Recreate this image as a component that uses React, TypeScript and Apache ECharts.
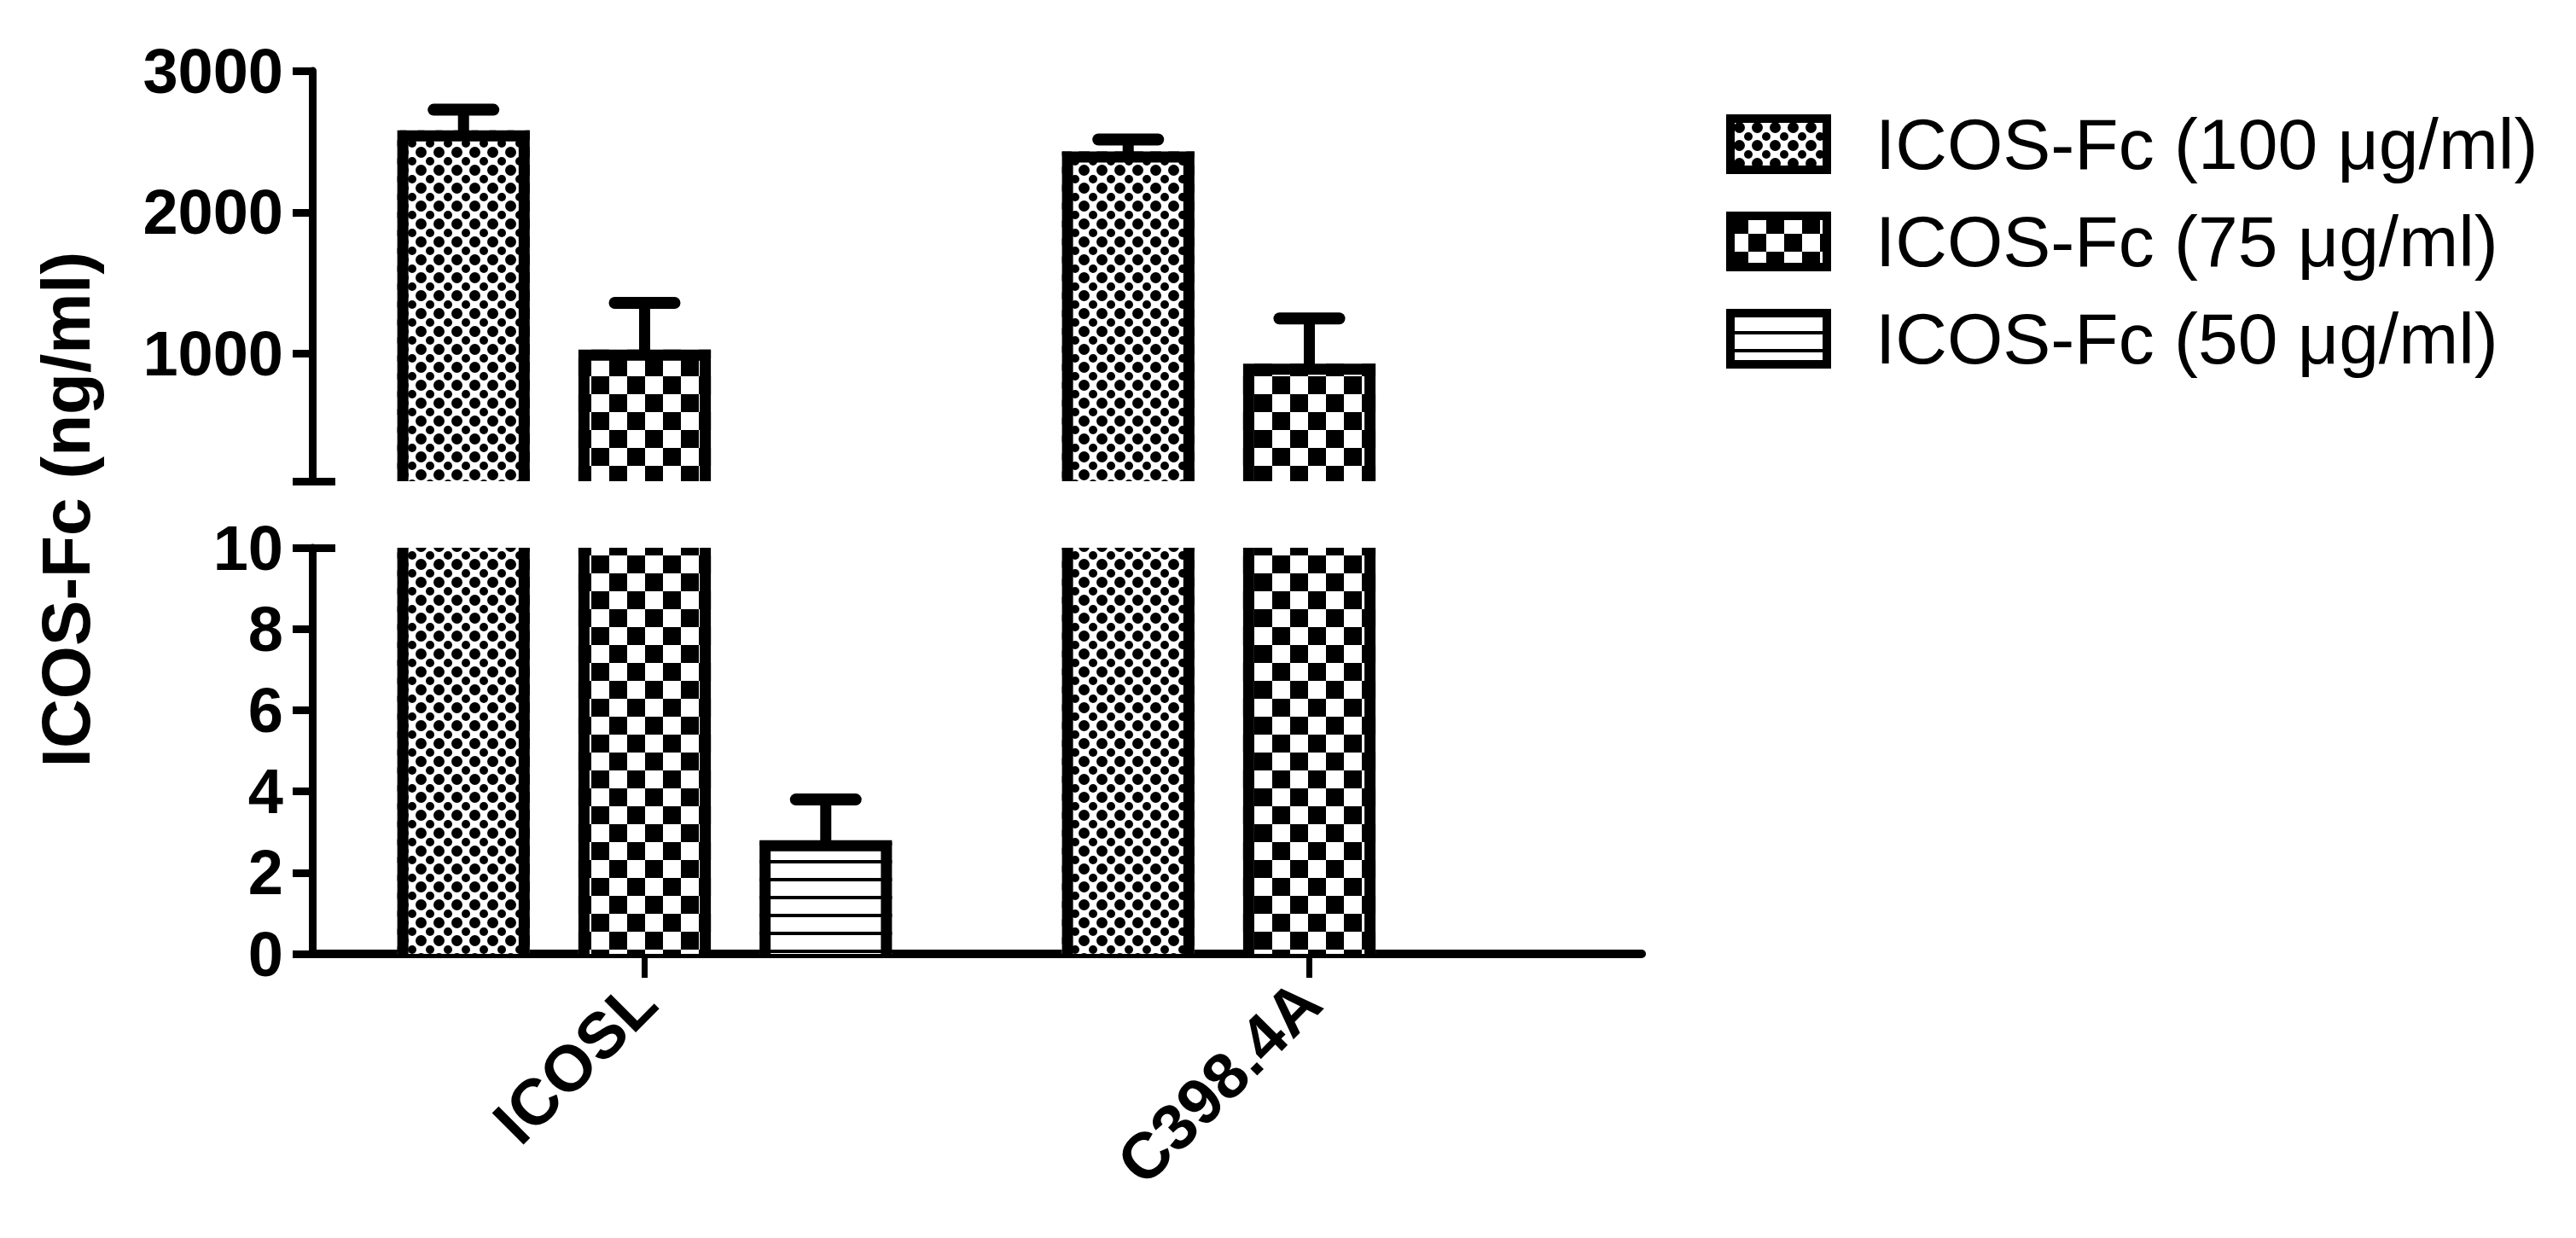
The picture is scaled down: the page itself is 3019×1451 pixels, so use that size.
import React, { useEffect, useRef } from 'react';
import * as echarts from 'echarts';

// ---- data ----
const categories = ['ICOSL', 'C398.4A'];
const seriesNames = ['ICOS-Fc (100 μg/ml)', 'ICOS-Fc (75 μg/ml)', 'ICOS-Fc (50 μg/ml)'];
const mean100: (number | null)[] = [2580, 2430];
const sd100: (number | null)[] = [145, 85];
const mean75: (number | null)[] = [1030, 930];
const sd75: (number | null)[] = [330, 320];
const mean50: (number | null)[] = [2.8, null];
const sd50: (number | null)[] = [1.0, null];
const upperLabels = [1000, 2000, 3000];
const upperRange = [100, 3000];
const lowerRange = [0, 10];
const lowerInterval = 2;
const yTitle = 'ICOS-Fc (ng/ml)';

const FONT = "'Liberation Sans', Arial, Helvetica, sans-serif";

function makePattern(kind: string) {
  const w = kind === 'check' ? 42 : 21;
  const h = kind === 'check' ? 42 : 21;
  const c = document.createElement('canvas');
  c.width = w;
  c.height = h;
  const g = c.getContext('2d')!;
  g.fillStyle = '#fff';
  g.fillRect(0, 0, w, h);
  g.fillStyle = '#000';
  if (kind === 'dots') {
    g.beginPath();
    g.arc(10.5, 10.5, 6.5, 0, Math.PI * 2);
    g.fill();
    for (const [cx, cy] of [[0, 0], [21, 0], [0, 21], [21, 21]]) {
      g.beginPath();
      g.arc(cx, cy, 5, 0, Math.PI * 2);
      g.fill();
    }
  } else if (kind === 'check') {
    g.fillRect(0, 0, 21, 21);
    g.fillRect(21, 21, 21, 21);
  } else {
    g.fillRect(0, 0, 21, 4);
  }
  return { image: c.toDataURL(), repeat: 'repeat', imageWidth: w, imageHeight: h } as any;
}

const SPACING = 212 / 778; // bar centre spacing as share of the category band
const BARW = 155 / 778; // bar width as share of the category band
const BORDER = 13;

function makeRender(k: number, range: number[], pattern: any) {
  return (params: any, api: any) => {
    const ci = api.value(0);
    const v = api.value(1);
    const sd = api.value(2);
    if (v == null || isNaN(v) || v <= range[0]) return null;
    const band = api.size([1, 0])[0];
    const base = api.coord([ci, range[0]]);
    const x = base[0] + (k - 1) * SPACING * band;
    const w = BARW * band;
    const xl = x - w / 2;
    const xr = x + w / 2;
    const yBot = base[1];
    const closed = v <= range[1];
    const yTop = api.coord([ci, Math.min(v, range[1])])[1];
    const children: any[] = [
      { type: 'rect', shape: { x: xl, y: yTop, width: w, height: yBot - yTop }, style: { fill: pattern } },
    ];
    const bi = BORDER / 2;
    if (closed) {
      children.push({
        type: 'polyline',
        shape: { points: [[xl + bi, yBot], [xl + bi, yTop + bi], [xr - bi, yTop + bi], [xr - bi, yBot]] },
        style: { stroke: '#000', lineWidth: BORDER, fill: null, lineJoin: 'miter' },
      });
      if (sd != null && !isNaN(sd)) {
        const yErr = api.coord([ci, v + sd])[1];
        children.push({
          type: 'line',
          shape: { x1: x, y1: yTop + 2, x2: x, y2: yErr },
          style: { stroke: '#000', lineWidth: 13 },
        });
        children.push({
          type: 'line',
          shape: { x1: x - 35, y1: yErr, x2: x + 35, y2: yErr },
          style: { stroke: '#000', lineWidth: 14, lineCap: 'round' },
        });
      }
    } else {
      children.push({
        type: 'line',
        shape: { x1: xl + bi, y1: yBot, x2: xl + bi, y2: yTop },
        style: { stroke: '#000', lineWidth: BORDER },
      });
      children.push({
        type: 'line',
        shape: { x1: xr - bi, y1: yBot, x2: xr - bi, y2: yTop },
        style: { stroke: '#000', lineWidth: BORDER },
      });
    }
    return { type: 'group', children };
  };
}

function buildData(means: (number | null)[], sds: (number | null)[]) {
  const out: any[] = [];
  means.forEach((m, i) => {
    if (m != null) out.push([i, m, sds[i]]);
  });
  return out;
}

export default function App() {
  const ref = useRef<HTMLDivElement>(null);
  useEffect(() => {
    document.body.style.margin = '0';
    document.body.style.overflow = 'hidden';
    if (!ref.current) return;
    const chart = echarts.init(ref.current, null, { renderer: 'svg' });
    const patterns = [makePattern('dots'), makePattern('check'), makePattern('lines')];
    const means = [mean100, mean75, mean50];
    const sds = [sd100, sd75, sd50];

    const series: any[] = [];
    [0, 1].forEach((gi) => {
      const range = gi === 0 ? upperRange : lowerRange;
      seriesNames.forEach((name, k) => {
        series.push({
          type: 'custom',
          name,
          xAxisIndex: gi,
          yAxisIndex: gi * 2,
          clip: false,
          silent: true,
          itemStyle: { color: patterns[k], borderColor: '#000', borderWidth: 10 },
          encode: { x: 0, y: 1 },
          data: buildData(means[k], sds[k]),
          renderItem: makeRender(k, range, patterns[k]),
        });
      });
    });

    const labelStyle = {
      fontSize: 74,
      fontWeight: 'bold',
      color: '#000',
      fontFamily: FONT,
      formatter: (v: number) => String(v),
    };
    const axisLine = { show: true, lineStyle: { color: '#000', width: 9 } };

    const option: any = {
      animation: false,
      backgroundColor: '#fff',
      textStyle: { fontFamily: FONT },
      grid: [
        { left: 366, top: 83, width: 1558, height: 481, outerBoundsMode: 'none' },
        { left: 366, top: 642, width: 1558, height: 476, outerBoundsMode: 'none' },
      ],
      xAxis: [
        { type: 'category', gridIndex: 0, data: categories, show: false },
        {
          type: 'category',
          gridIndex: 1,
          data: categories,
          axisLine: { show: true, onZero: false, lineStyle: { color: '#000', width: 10 } },
          axisTick: { show: true, alignWithLabel: true, length: 28, lineStyle: { color: '#000', width: 7 } },
          axisLabel: { rotate: 45, margin: 44, fontSize: 76, fontWeight: 'bold', color: '#000', fontFamily: FONT },
          splitLine: { show: false },
        },
      ],
      yAxis: [
        {
          type: 'value',
          gridIndex: 0,
          position: 'left',
          min: upperRange[0],
          max: upperRange[1],
          axisLine,
          axisTick: { show: true, length: 23, lineStyle: { color: '#000', width: 9 }, customValues: [upperRange[0], ...upperLabels] },
          axisLabel: { ...labelStyle, margin: 34, customValues: upperLabels },
          splitLine: { show: false },
        },
        {
          type: 'value',
          gridIndex: 0,
          position: 'left',
          min: upperRange[0],
          max: upperRange[1],
          axisLine: { show: false },
          axisTick: { show: true, inside: true, length: 27, lineStyle: { color: '#000', width: 9 }, customValues: [upperRange[0]] },
          axisLabel: { show: false },
          splitLine: { show: false },
        },
        {
          type: 'value',
          gridIndex: 1,
          position: 'left',
          min: lowerRange[0],
          max: lowerRange[1],
          interval: lowerInterval,
          axisLine,
          axisTick: { show: true, length: 23, lineStyle: { color: '#000', width: 9 } },
          axisLabel: { ...labelStyle, margin: 34 },
          splitLine: { show: false },
        },
        {
          type: 'value',
          gridIndex: 1,
          position: 'left',
          min: lowerRange[0],
          max: lowerRange[1],
          axisLine: { show: false },
          axisTick: { show: true, inside: true, length: 27, lineStyle: { color: '#000', width: 9 }, customValues: [lowerRange[1]] },
          axisLabel: { show: false },
          splitLine: { show: false },
        },
      ],
      legend: {
        orient: 'vertical',
        left: 2018,
        top: 122,
        itemWidth: 113,
        itemHeight: 60,
        itemGap: 30,
        selectedMode: false,
        textStyle: { fontSize: 84, color: '#000', fontFamily: FONT, lineHeight: 84, padding: [0, 0, 0, 52] },
        data: seriesNames.map((n, i) => ({
          name: n,
          icon: 'rect',
          itemStyle: { color: patterns[i], borderColor: '#000', borderWidth: 10 },
        })),
      },
      graphic: [
        {
          type: 'text',
          x: 77,
          y: 597,
          rotation: Math.PI / 2,
          style: {
            text: yTitle,
            fontSize: 80,
            fontWeight: 'bold',
            fontFamily: FONT,
            fill: '#000',
            align: 'center',
            verticalAlign: 'middle',
          },
        },
      ],
      series,
    };
    chart.setOption(option);
    return () => chart.dispose();
  }, []);
  return <div ref={ref} style={{ width: 3019, height: 1451 }} />;
}
